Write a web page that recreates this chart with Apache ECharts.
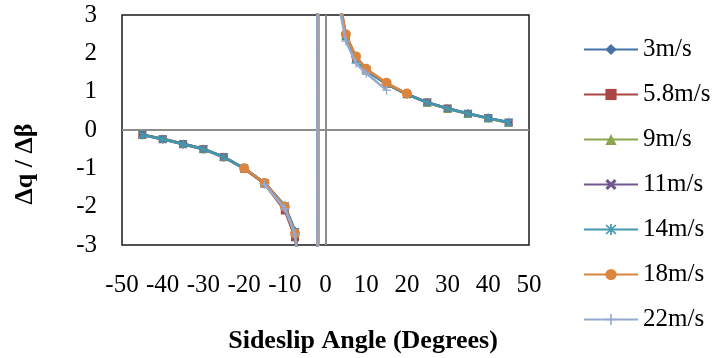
<!DOCTYPE html>
<html>
<head>
<meta charset="utf-8">
<script src="https://cdn.jsdelivr.net/npm/echarts@6/dist/echarts.min.js"></script>
<style>
html,body{margin:0;padding:0;background:#fff;}
#c{width:713px;height:358px;}
</style>
</head>
<body>
<div id="c"></div>
<script>
// ---- data ----
const seriesNames = ['3m/s','5.8m/s','9m/s','11m/s','14m/s','18m/s','22m/s'];
const xTicks = [-50,-40,-30,-20,-10,0,10,20,30,40,50];
const yTicks = [-3,-2,-1,0,1,2,3];

const xMain = [-45,-40,-35,-30,-25,-20,-15,-10,-7.5,-5,-2,-2,2.5,5,7.5,10,15,20,25,30,35,40,45];
const v3  = [-0.12,-0.23,-0.36,-0.49,-0.70,-1.00,-1.37,-1.97,-2.62,-5.0,-40,40,3.9,2.45,1.85,1.55,1.20,0.93,0.72,0.56,0.43,0.31,0.20];
const v58 = [-0.13,-0.24,-0.37,-0.50,-0.71,-1.01,-1.40,-2.10,-2.80,-5.2,-40,40,3.9,2.45,1.87,1.56,1.21,0.94,0.72,0.56,0.42,0.31,0.19];
const v9  = [-0.12,-0.23,-0.36,-0.49,-0.70,-1.00,-1.38,-2.00,-2.70,-5.1,-40,40,3.9,2.44,1.85,1.55,1.20,0.93,0.71,0.55,0.42,0.30,0.19];
const v11 = [-0.12,-0.24,-0.36,-0.50,-0.70,-1.00,-1.38,-1.99,-2.66,-5.0,-40,40,3.9,2.45,1.86,1.55,1.20,0.93,0.72,0.56,0.43,0.31,0.20];
const v14 = [-0.13,-0.24,-0.37,-0.50,-0.71,-1.00,-1.38,-1.98,-2.65,-5.0,-40,40,3.9,2.45,1.85,1.55,1.20,0.93,0.72,0.56,0.43,0.31,0.20];
const x18 = [-20,-15,-10,-7.5,-5,-1.7,-1.7,2.5,5,7.5,10,15,20];
const v18 = [-1.00,-1.38,-2.00,-2.70,-5.0,-40,40,4.0,2.50,1.92,1.60,1.23,0.95];
const x22 = [-15,-10,-7.5,-5,-2,-2,2.5,5,7.5,10,15];
const v22 = [-1.42,-2.05,-2.72,-5.2,-40,40,3.7,2.32,1.74,1.48,1.04];

const colors = ['#4572A7','#AA4643','#89A54E','#71588F','#4198AF','#DB843D','#93A9CF'];
const FONT = '"Liberation Serif","Times New Roman",serif';

function zip(xs, ys){ return xs.map((x,i)=>[x, ys[i]]); }

const xMark = 'path://M2,0L5,3L8,0L10,2L7,5L10,8L8,10L5,7L2,10L0,8L3,5L0,2Z';
const starMark = 'path://M1.5,0.5L5,4L8.5,0.5L9.5,1.5L6,5L9.5,8.5L8.5,9.5L5,6L1.5,9.5L0.5,8.5L4,5L0.5,1.5Z M4.3,0H5.7V10H4.3Z';
const plusMark = 'path://M4.3,0H5.7V4.3H10V5.7H5.7V10H4.3V5.7H0V4.3H4.3Z';

const symbols = ['diamond','rect','triangle',xMark,starMark,'circle',plusMark];
const sizes = [8,8,8,8,9,10,9];
const dataSets = [zip(xMain,v3),zip(xMain,v58),zip(xMain,v9),zip(xMain,v11),zip(xMain,v14),zip(x18,v18),zip(x22,v22)];

const series = seriesNames.map((n,i)=>({
  name:n, type:'line', data:dataSets[i],
  symbol:symbols[i], symbolSize:sizes[i], showSymbol:true,
  lineStyle:{color:colors[i], width:2.5},
  itemStyle:{color:colors[i], borderColor:colors[i], borderWidth:0},
  animation:false, z:3+i
}));
series.unshift({
  name:'zero', type:'line', data:[], z:1, silent:true, animation:false,
  markLine:{silent:true, symbol:'none', animation:false, label:{show:false},
    lineStyle:{color:'#8c8c8c', width:2, type:'solid'},
    data:[{xAxis:0},{yAxis:0}]}
});

const chart = echarts.init(document.getElementById('c'), null, {renderer:'canvas'});
chart.setOption({
  backgroundColor:'#fff',
  animation:false,
  grid:{left:122, right:184, top:15, bottom:113, show:true, borderColor:'#1a1a1a', borderWidth:1.5, backgroundColor:'transparent'},
  xAxis:{type:'value', min:xTicks[0], max:xTicks[xTicks.length-1], interval:10,
    axisLine:{show:false}, axisTick:{show:false}, splitLine:{show:false},
    axisLabel:{color:'#000', fontFamily:FONT, fontSize:25, margin:28}},
  yAxis:{type:'value', min:yTicks[0], max:yTicks[yTicks.length-1], interval:1,
    axisLine:{show:false}, axisTick:{show:false}, splitLine:{show:false},
    axisLabel:{color:'#000', fontFamily:FONT, fontSize:25, margin:25}},
  legend:{orient:'vertical', left:578, top:32, itemWidth:54, itemHeight:14, itemGap:20,
    data:seriesNames, textStyle:{color:'#000', fontFamily:FONT, fontSize:25}},
  graphic:[
    {type:'text', position:[363,341], style:{text:'Sideslip Angle (Degrees)', font:'bold 26px '+FONT, fill:'#000', textAlign:'center', textVerticalAlign:'middle'}},
    {type:'text', rotation:Math.PI/2, position:[25,164], style:{text:'Δq / Δβ', font:'bold 26px '+FONT, fill:'#000', textAlign:'center', textVerticalAlign:'middle'}}
  ],
  series:series
});
</script>
</body>
</html>
